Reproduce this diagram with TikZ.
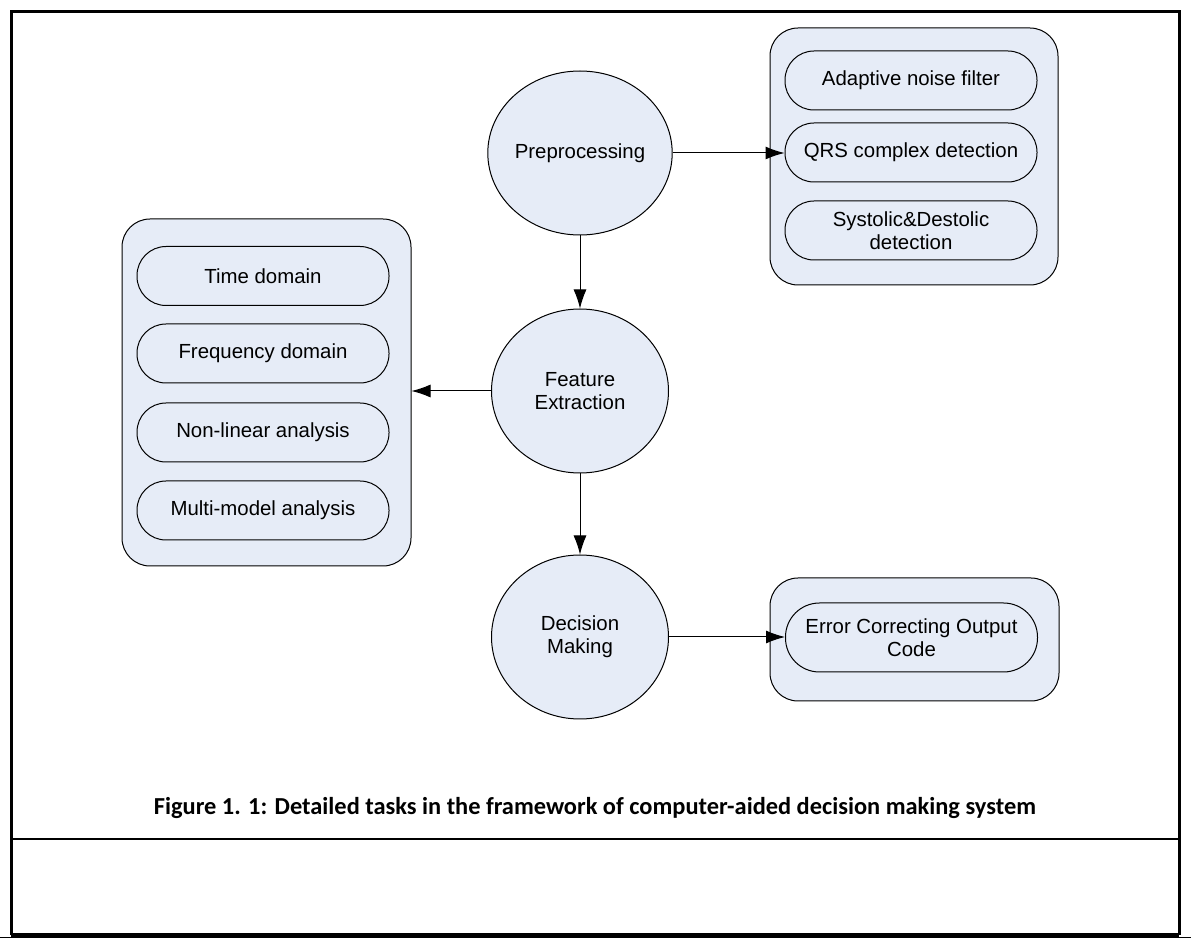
\documentclass[tikz,border=0pt]{standalone}
\usepackage{fontspec}
\setmainfont{Liberation Sans}
\newfontfamily\capfont{Carlito}
\usetikzlibrary{shapes.geometric}
\usetikzlibrary{arrows.meta}
\definecolor{boxfill}{RGB}{230,236,247}

\begin{document}
\begin{tikzpicture} [
  x=0.5pt, y=-0.5pt,
  every node/.style={font=\fontsize{10.2}{11.4}\selectfont, align=center},
  stage/.style={ellipse, draw, fill=boxfill, line width=0.5pt, minimum width=88.5pt, minimum height=82pt, inner sep=0},
  group/.style={draw, fill=boxfill, rounded corners=14pt, line width=0.5pt, inner sep=0},
  task/.style={draw, fill=boxfill, rounded corners=14.5pt, minimum width=126pt, minimum height=29.5pt, inner sep=0, line width=0.5pt},
  flow/.style={-{Latex[length=9.5pt,width=6.5pt]}, line width=0.5pt},
  frame/.style={line width=1.5pt}
  ]
  \useasboundingbox (0,0) rectangle (1191,941);

  \node (prep) [stage] at (580,153) {Preprocessing};
  \node (feat) [stage] at (580,391) {Feature\\Extraction};
  \node (dec) [stage] at (580,637) {Decision\\Making};

  \node (g1) [group, minimum width=144.5pt, minimum height=173.5pt] at (266.5,392.5) {};
  \node (g2) [group, minimum width=144pt, minimum height=128.5pt] at (914,156.5) {};
  \node (g3) [group, minimum width=144.5pt, minimum height=61.5pt] at (914.5,639.5) {};

  \node (t1) [task] at (911,80.5) {Adaptive noise filter};
  \node (t2) [task] at (911,152.5) {QRS complex detection};
  \node (t3) [task] at (911,230.5) {Systolic\&Destolic\\detection};
  \node (t4) [task] at (263,276) {Time domain};
  \node (t5) [task] at (263,353.5) {Frequency domain};
  \node (t6) [task] at (263,432.5) {Non-linear analysis};
  \node (t7) [task] at (263,510.5) {Multi-model analysis};
  \node (t8) [task, minimum height=34.5pt, rounded corners=17pt] at (911.5,637.5) {Error Correcting Output\\Code};

  \draw [flow] (prep.east) -- (prep.east -| t2.west);
  \draw [flow] (prep) -- (feat);
  \draw [flow] (feat.west) -- (feat.west -| g1.east);
  \draw [flow] (feat) -- (dec);
  \draw [flow] (dec.east) -- (dec.east -| t8.west);

  \node (cap) [font=\capfont\bfseries\fontsize{12.2}{14}\selectfont] at (595,808) {Figure 1. 1: Detailed tasks in the framework of computer-aided decision making system};

  \draw [frame] (11,935) -- (11,12) -- (1179,12) -- (1179,935);
  \draw [line width=1.1pt] (11,839) -- (1179,839);
  \draw [line width=2pt] (11,935) -- (1179,935);
  \draw [line width=0.5pt] (0,937) -- (1191,937);
\end{tikzpicture}
\end{document}
